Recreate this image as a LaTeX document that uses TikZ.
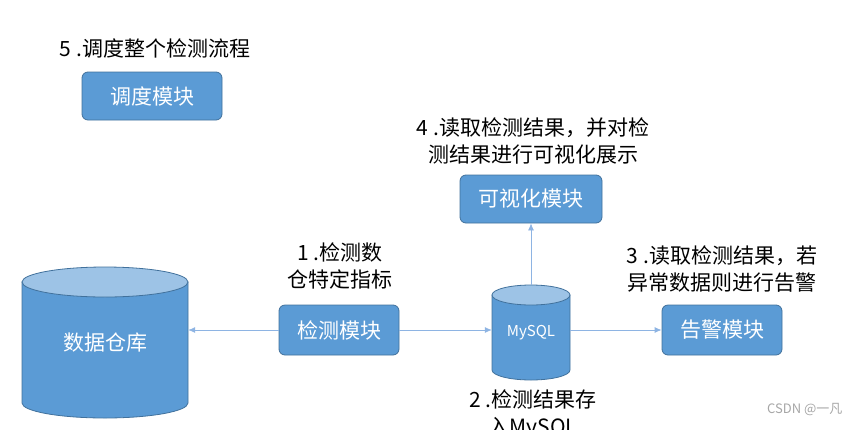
\documentclass[tikz,border=0pt]{standalone}
\usepackage{fontspec}
\setmainfont{Noto Sans CJK SC}
\usetikzlibrary{arrows.meta}
\definecolor{boxfill}{HTML}{5B9BD5}
\definecolor{boxedge}{HTML}{41719C}
\definecolor{topfill}{HTML}{9DC3E6}
\definecolor{linec}{HTML}{8EB4E3}
\tikzset{
 mod/.style={draw=boxedge,fill=boxfill,rounded corners=6pt,text=white,font=\fontsize{21}{22}\selectfont,line width=0.8pt},
 dbshape/.style={draw=boxedge,line width=0.8pt},
 dbtext/.style={inner sep=0pt,text=white},
 lbl/.style={align=center,font=\fontsize{21}{27}\selectfont},
 conn/.style={draw=linec,line width=0.8pt,-{Latex[length=7pt,width=6pt]}}
}
\newcommand\drawcyl[5]{% cx, top, bottom, rx, ry
 \filldraw[dbshape,fill=boxfill] (#1-#4,#2+#5) -- (#1-#4,#3-#5)
   arc[start angle=180,end angle=0,x radius=#4,y radius=#5] -- (#1+#4,#2+#5) -- cycle;
 \filldraw[dbshape,fill=topfill] (#1,#2+#5) ellipse[x radius=#4,y radius=#5];
}
\begin{document}
\begin{tikzpicture}[x=1pt,y=-1pt]
\useasboundingbox (0,0) rectangle (854,429);
\node[lbl] (t5) at (155,48) {5 .调度整个检测流程};
\node[mod,minimum width=140pt,minimum height=48pt] (sched) at (152,96) {调度模块};
\node[lbl] (t4) at (533,141) {4 .读取检测结果，并对检\\测结果进行可视化展示};
\node[mod,minimum width=142pt,minimum height=48pt] (vis) at (531,199) {可视化模块};
\node[lbl] (t1) at (340,266) {1 .检测数\\仓特定指标};
\node[mod,minimum width=120pt,minimum height=50pt] (det) at (339,330) {检测模块};
\drawcyl{105}{267}{418}{83}{15}
\node[dbtext,minimum width=166pt,minimum height=151pt,font=\fontsize{21}{22}\selectfont] (dw) at (105,342.5) {数据仓库};
\drawcyl{531}{285}{380}{39}{10}
\node[dbtext,minimum width=78pt,minimum height=95pt,font=\fontsize{15}{17}\selectfont] (my) at (531,332.5) {MySQL};
\node[mod,minimum width=120pt,minimum height=50pt] (alarm) at (722,330) {告警模块};
\node[lbl] (t3) at (722,269) {3 .读取检测结果，若\\异常数据则进行告警};
\node[lbl,anchor=north] (t2) at (533,386) {2 .检测结果存\\入MySQL};
\node[anchor=east,text=gray!70,font=\fontsize{13}{15}\selectfont] (wm) at (846,410) {CSDN @一凡};
\draw[conn] (det.west) -- (dw.east |- det.west);
\draw[conn] (det.east) -- (my.west |- det.east);
\draw[conn] (my.east |- alarm.west) -- (alarm.west);
\draw[conn] (my.north) -- (vis.south);
\end{tikzpicture}
\end{document}
